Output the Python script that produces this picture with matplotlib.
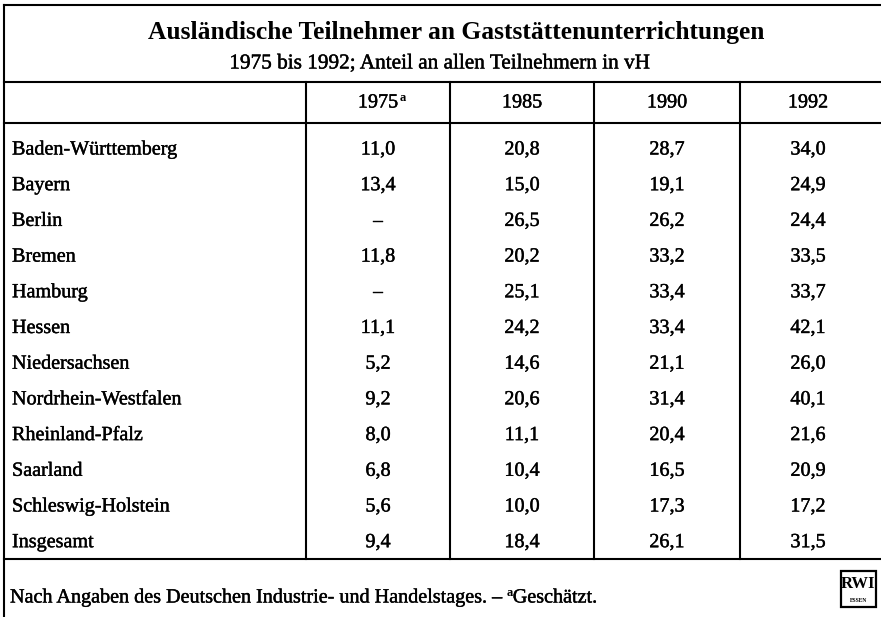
import matplotlib.pyplot as plt
import matplotlib.patheffects as pe
from matplotlib.patches import Rectangle

plt.rcParams['font.family'] = ['Liberation Serif', 'DejaVu Serif']

title = "Ausländische Teilnehmer an Gaststättenunterrichtungen"
subtitle = "1975 bis 1992; Anteil an allen Teilnehmern in vH"
years = ["1975", "1985", "1990", "1992"]
states = ["Baden-Württemberg", "Bayern", "Berlin", "Bremen", "Hamburg", "Hessen",
          "Niedersachsen", "Nordrhein-Westfalen", "Rheinland-Pfalz", "Saarland",
          "Schleswig-Holstein", "Insgesamt"]
v1975 = ["11,0", "13,4", "–", "11,8", "–", "11,1", "5,2", "9,2", "8,0", "6,8", "5,6", "9,4"]
v1985 = ["20,8", "15,0", "26,5", "20,2", "25,1", "24,2", "14,6", "20,6", "11,1", "10,4", "10,0", "18,4"]
v1990 = ["28,7", "19,1", "26,2", "33,2", "33,4", "33,4", "21,1", "31,4", "20,4", "16,5", "17,3", "26,1"]
v1992 = ["34,0", "24,9", "24,4", "33,5", "33,7", "42,1", "26,0", "40,1", "21,6", "20,9", "17,2", "31,5"]
note = "Nach Angaben des Deutschen Industrie- und Handelstages. – "
note2 = "Geschätzt."

W, H = 881, 617
fig = plt.figure(figsize=(W / 100, H / 100), dpi=100)
ax = fig.add_axes([0, 0, 1, 1])
ax.set_xlim(0, W)
ax.set_ylim(H, 0)
ax.axis('off')

# scanned print looks heavy: thicken glyphs a little
heavy = [pe.withStroke(linewidth=0.3, foreground='black')]

lw = 1.5
col_x = [306, 450, 594, 740]
col_c = [378, 522, 667, 808]
x_left = 4
# frame lines
for y in [5, 82, 123, 559]:
    ax.plot([x_left, W], [y, y], color='black', lw=lw)
ax.plot([x_left, x_left], [5, H], color='black', lw=lw)
for x in col_x:
    ax.plot([x, x], [82, 559], color='black', lw=lw)

ax.text(456, 32, title, ha='center', va='center', fontsize=18.4, fontweight='bold')
ax.text(440, 64, subtitle, ha='center', va='center', fontsize=15.3, path_effects=heavy)

fs = 14.5
for i, yr in enumerate(years):
    t = ax.text(col_c[i], 103, yr, ha='center', va='center', fontsize=fs, path_effects=heavy)
    if i == 0:
        fig.canvas.draw()
        x1 = ax.transData.inverted().transform(t.get_window_extent().p1)[0]
        ax.text(x1 + 1, 98, "a", ha='left', va='center', fontsize=9, fontweight='bold')

cols = [v1975, v1985, v1990, v1992]
y0, dy = 150, 35.7
for r, name in enumerate(states):
    y = y0 + r * dy
    ax.text(12, y, name, ha='left', va='center', fontsize=fs, path_effects=heavy)
    for c, vals in enumerate(cols):
        ax.text(col_c[c], y, vals[r], ha='center', va='center', fontsize=fs, path_effects=heavy)

t = ax.text(10, 598, note, ha='left', va='center', fontsize=fs, path_effects=heavy)
fig.canvas.draw()
xe = ax.transData.inverted().transform(t.get_window_extent().p1)[0]
ax.text(xe, 593, "a", ha='left', va='center', fontsize=9, fontweight='bold')
ax.text(xe + 6, 598, note2, ha='left', va='center', fontsize=fs, path_effects=heavy)

# RWI logo
ax.add_patch(Rectangle((841, 571), 35, 36, fill=False, lw=1.6, ec='black'))
ax.text(858.5, 584, "RWI", ha='center', va='center', fontsize=12, fontweight='bold')
ax.text(858.5, 601, "ESSEN", ha='center', va='center', fontsize=4, fontweight='bold')

fig.savefig("out.png", dpi=100)
